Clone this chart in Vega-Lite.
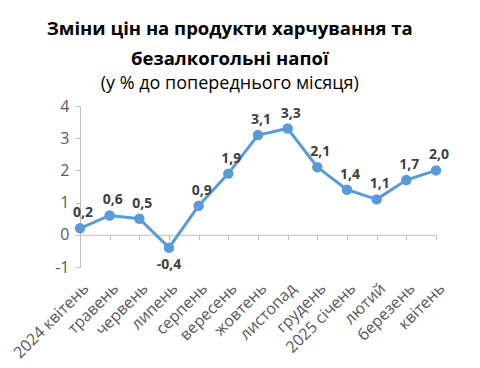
{
  "$schema": "https://vega.github.io/schema/vega-lite/v6.json",
  "width": 356,
  "height": 161,
  "padding": {"left": 10, "top": 19, "right": 10, "bottom": 5},
  "background": "white",
  "title": {
    "text": ["Зміни цін на продукти харчування та", "безалкогольні напої"],
    "subtitle": "(у % до попереднього місяця)",
    "font": "Open Sans",
    "fontSize": 18.5,
    "fontWeight": "bold",
    "color": "#000000",
    "lineHeight": 30,
    "subtitleFont": "Open Sans",
    "subtitleFontSize": 18,
    "subtitleColor": "#000000",
    "subtitlePadding": 7,
    "anchor": "middle",
    "frame": "bounds",
    "offset": 5
  },
  "config": {
    "locale": {"number": {"decimal": ",", "thousands": " ", "grouping": [3], "currency": ["", ""], "minus": "-"}},
    "view": {"stroke": null},
    "axis": {"labelFont": "Open Sans", "titleFont": "Open Sans"}
  },
  "data": {
    "values": [
      {"month": "2024 квітень", "v": 0.2},
      {"month": "травень", "v": 0.6},
      {"month": "червень", "v": 0.5},
      {"month": "липень", "v": -0.4},
      {"month": "серпень", "v": 0.9},
      {"month": "вересень", "v": 1.9},
      {"month": "жовтень", "v": 3.1},
      {"month": "листопад", "v": 3.3},
      {"month": "грудень", "v": 2.1},
      {"month": "2025 січень", "v": 1.4},
      {"month": "лютий", "v": 1.1},
      {"month": "березень", "v": 1.7},
      {"month": "квітень", "v": 2.0}
    ]
  },
  "encoding": {
    "y": {
      "field": "v",
      "type": "quantitative",
      "scale": {"domain": [-1, 4], "nice": false, "zero": false},
      "axis": {
        "values": [-1, 0, 1, 2, 3, 4],
        "grid": false,
        "title": null,
        "domainColor": "#BFBFBF",
        "tickColor": "#BFBFBF",
        "tickSize": 5,
        "labelFontSize": 16,
        "labelColor": "#595959",
        "labelPadding": 6
      }
    }
  },
  "layer": [
    {
      "mark": {"type": "line", "color": "#5B9BD5", "strokeWidth": 3},
      "encoding": {
        "x": {
          "field": "month", "type": "nominal", "sort": null,
          "scale": {"padding": 0},
          "axis": {
            "orient": "bottom",
            "domain": false,
            "ticks": false,
            "title": null,
            "labelAngle": -45,
            "labelFontSize": 16,
            "labelColor": "#595959",
            "labelPadding": 13
          }
        }
      }
    },
    {
      "mark": {"type": "point", "filled": true, "opacity": 1, "color": "#5B9BD5", "size": 110},
      "encoding": {
        "x": {
          "field": "month", "type": "nominal", "sort": null,
          "scale": {"padding": 0},
          "axis": {
            "orient": "bottom",
            "offset": -32.2,
            "labels": false,
            "domain": true,
            "ticks": true,
            "tickSize": 5,
            "domainColor": "#BFBFBF",
            "tickColor": "#BFBFBF",
            "title": null
          }
        }
      }
    },
    {
      "transform": [{"filter": "datum.v >= 0"}],
      "mark": {"type": "text", "font": "Open Sans", "fontSize": 14, "fontWeight": "bold", "color": "#404040", "dy": -15, "dx": 3},
      "encoding": {
        "x": {"field": "month", "type": "nominal", "sort": null, "scale": {"padding": 0}, "axis": null},
        "text": {"field": "v", "type": "quantitative", "format": ".1f"}
      }
    },
    {
      "transform": [{"filter": "datum.v < 0"}],
      "mark": {"type": "text", "font": "Open Sans", "fontSize": 14, "fontWeight": "bold", "color": "#404040", "dy": 17},
      "encoding": {
        "x": {"field": "month", "type": "nominal", "sort": null, "scale": {"padding": 0}, "axis": null},
        "text": {"field": "v", "type": "quantitative", "format": ".1f"}
      }
    }
  ],
  "resolve": {"axis": {"x": "independent"}}
}
